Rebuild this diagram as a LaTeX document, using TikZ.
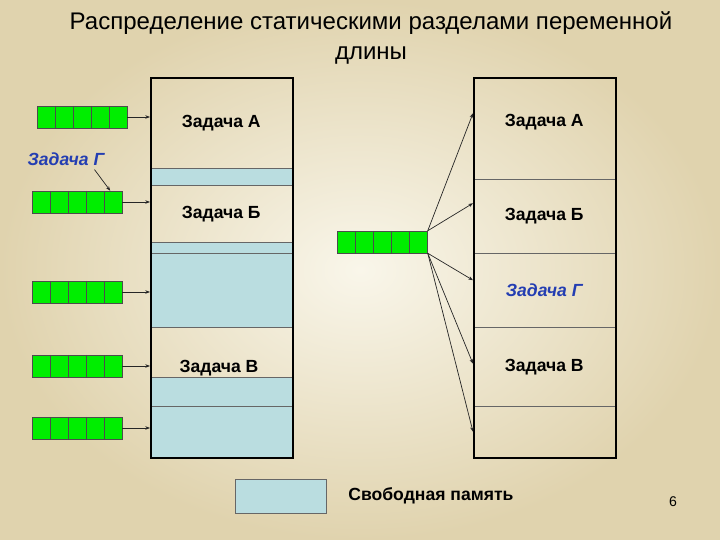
\documentclass[tikz,border=0pt]{standalone}
\usepackage{fontspec}
\setmainfont{Liberation Sans}
\usetikzlibrary{arrows.meta,calc,positioning}

\definecolor{freemem}{RGB}{186,221,224}
\definecolor{qgreen}{RGB}{0,238,0}
\definecolor{taskblue}{RGB}{36,62,178}
\definecolor{bgin}{RGB}{249,246,234}
\definecolor{bgout}{RGB}{224,211,174}

% queue of five cells: name, position
\newcommand{\queue}[2]{%
  \node[queue] (#1) at (#2) {};
  \foreach \k in {1,...,4}
    \draw[cellline] ($(#1.north west)!\k/5!(#1.north east)$) -- ($(#1.south west)!\k/5!(#1.south east)$);
}

\begin{document}
\begin{tikzpicture}[x=0.03cm, y=-0.03cm,
    sec/.style={draw=black!60, minimum width=4.26cm, minimum height=#1*0.03cm, anchor=north west, inner sep=0pt, font=\bfseries\fontsize{15}{18}\selectfont},
    free/.style={sec=#1, fill=freemem},
    mem/.style={draw=black, line width=1.6pt, minimum width=4.26cm, minimum height=11.4cm, anchor=north west, inner sep=0pt},
    queue/.style={draw=black!70, fill=qgreen, minimum width=2.7cm, minimum height=0.66cm, inner sep=0pt},
    cellline/.style={draw=black!70},
    link/.style={-{Stealth[length=4pt,width=3pt]}, black!85, line width=0.6pt},
    task/.style={font=\bfseries\fontsize{15}{18}\selectfont},
    newtask/.style={text=taskblue, font=\bfseries\itshape\fontsize{15}{18}\selectfont}]

  \shade[inner color=bgin, outer color=bgout] (0,0) rectangle (720,540);
  \useasboundingbox (0,0) rectangle (720,540);

  \node[align=center, font=\fontsize{20.5}{25.5}\selectfont] (title) at (371,38)
    {Распределение статическими разделами переменной\\длины};

  % left memory
  \node[sec=91] (lA) at (150,77) {Задача А};
  \node[free=17] (lf1) at (150,168) {};
  \node[sec=57] (lB) at (150,185) {Задача Б};
  \node[free=11] (lf2) at (150,242) {};
  \node[free=74] (lf3) at (150,253) {};
  \node[sec=50] (lV) at (150,327) {};
  \node[free=29] (lf4) at (150,377) {};
  \node[free=51] (lf5) at (150,406) {};
  \node[mem] (lmem) at (150,77) {};
  \node[task] (lVt) at (219,368) {Задача В};

  % left queues
  \queue{q1}{82,117}
  \queue{q2}{77,202}
  \queue{q3}{77,292}
  \queue{q4}{77,366}
  \queue{q5}{77,428}
  \foreach \q in {q1,q2,q3,q4,q5}
    \draw[link] (\q.east) -- (\q.east -| lmem.west);

  \node[newtask] (gl) at (66,159) {Задача Г};
  \draw[link] ($(gl.south east)+(-14,0)$) -- ($(q2.north east)+(-12,0)$);

  % right memory
  \node[sec=102, text depth=0.5cm] (rA) at (473,77) {Задача А};
  \node[sec=74] (rB) at (473,179) {Задача Б};
  \node[sec=74, newtask] (rG) at (473,253) {Задача Г};
  \node[sec=79] (rV) at (473,327) {Задача В};
  \node[sec=51] (rE) at (473,406) {};
  \node[mem] (rmem) at (473,77) {};

  \queue{qr}{382.5,242}
  \draw[link] (qr.north east) -- ($(rA.west)+(0,-15)$);
  \draw[link] (qr.north east) -- ($(rB.west)+(0,-13)$);
  \draw[link] (qr.south east) -- ($(rG.west)+(0,-10)$);
  \draw[link] (qr.south east) -- ($(rV.west)+(0,-3)$);
  \draw[link] (qr.south east) -- (rE.west);

  % legend
  \node[draw=black!60, fill=freemem, minimum width=2.73cm, minimum height=1.02cm] (key) at (280.5,496) {};
  \node[task, right=0.54cm of key] (keytext) {Свободная память};
  \node[font=\fontsize{12}{14}\selectfont] (pnum) at (673,502) {6};
\end{tikzpicture}
\end{document}
